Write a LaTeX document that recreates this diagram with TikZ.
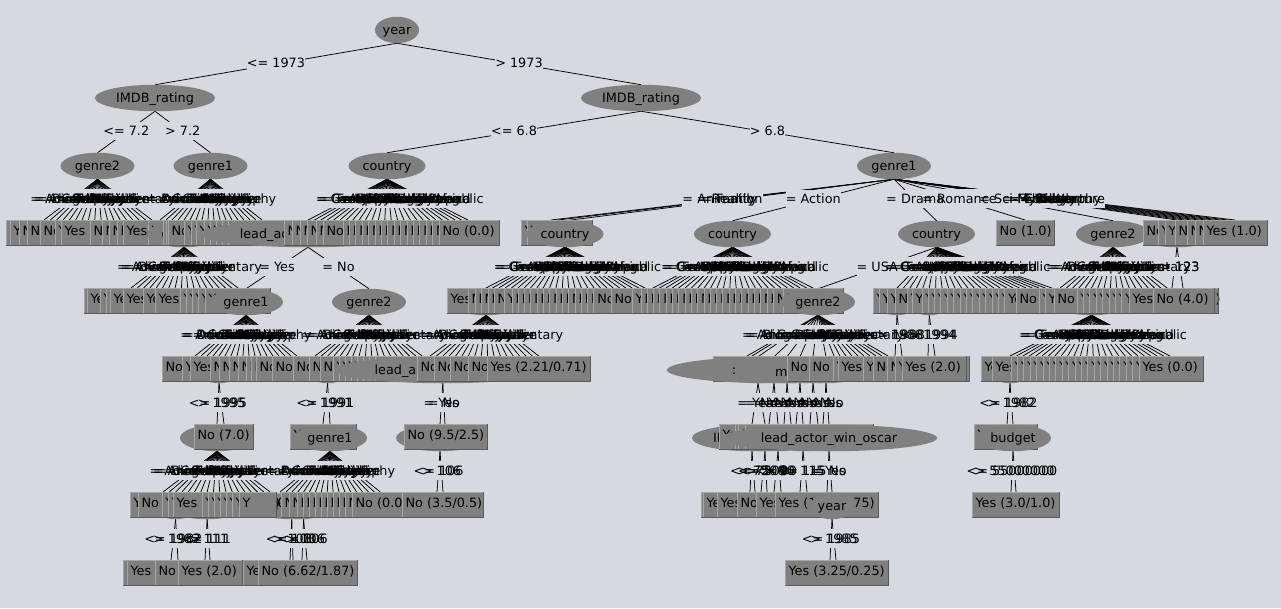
\documentclass[tikz,border=0pt]{standalone}
\usepackage{fontspec}
\setmainfont{DejaVu Sans}
\usetikzlibrary{shapes.geometric,calc}
\pgfdeclarelayer{edges}\pgfdeclarelayer{labbg}\pgfdeclarelayer{labtx}
\pgfsetlayers{edges,labbg,labtx,main}
\definecolor{bgc}{HTML}{D6D9E0}
\definecolor{nodec}{HTML}{808080}
\definecolor{litc}{HTML}{A6A6A6}
\definecolor{drkc}{HTML}{5A5A5A}
\newcount\lfn \newcount\lbn
\tikzset{
  x=1pt,y=-1pt,
  tx/.style={font=\fontsize{12.8}{15}\selectfont,text=black,text height=10.5pt,text depth=1.5pt},
  ell/.style={ellipse,fill=nodec,minimum height=26.5pt,inner sep=0pt,outer sep=0pt,tx},
  leafbox/.style={rectangle,fill=nodec,anchor=north west,minimum height=25pt,inner xsep=3.5pt,inner ysep=0pt,outer sep=0pt,align=left,tx},
  lit/.style={litc,line width=0.9pt},
  drk/.style={drkc,line width=0.9pt},
  edgeln/.style={black,line width=0.75pt},
  labfill/.style={fill=bgc,inner xsep=0pt,inner ysep=0pt,minimum height=18.5pt,outer sep=0pt,tx},
  labtxt/.style={inner xsep=0pt,inner ysep=0pt,tx}
}
% edges are collected and drawn at the end, each layer being entered once
\gdef\edlist{}
\newcommand\ed[3]{%
  \xdef\edlist{\unexpanded\expandafter{\edlist}\noexpand\oneedge{#1}{#2}{#3}}}
% evenly spread children: parent, prefix, first x, step, top y, list macro
\newcommand\fan[6]{%
  \foreach \l [count=\i] in #6 {%
    \pgfmathsetmacro\cx{#3+#4*(\i-1)}
    \coordinate (#2-\i) at (\cx,#5);
    \ed{#1}{#2-\i}{\l}}}
\newcommand\pairk[7]{%
  \coordinate (#2-1) at (#3,#5);\coordinate (#2-2) at (#4,#5);
  \ed{#1}{#2-1}{#6}\ed{#1}{#2-2}{#7}}
% leaf box: top y, left x, width, text
\newcommand\lf[4]{%
  \global\advance\lfn by 1
  \pgfmathsetmacro\tw{#3-7}
  \node[leafbox,text width=\tw pt] (lf\the\lfn) at (#2,#1) {\mbox{\raisebox{1.8pt}{#4}}};
  \draw[lit] (lf\the\lfn.south west) -- (lf\the\lfn.north west) -- (lf\the\lfn.north east);
  \draw[drk] (lf\the\lfn.south west) -- (lf\the\lfn.south east) -- (lf\the\lfn.north east);}
\newcommand\rowN[2]{\foreach \L in {#2} {\lf{#1}{\L}{60}{No (0.0)}}}
\newcommand\rowY[2]{\foreach \L in {#2} {\lf{#1}{\L}{65}{Yes (0.0)}}}
\def\GA{= Adventure,= Animation,= Biography,= Comedy,= Crime,= Drama,= Family,= Fantasy,= History,= Horror,= Music,= Musical,= Mystery,= Romance,= Sci-Fi,= Thriller,= War,= Documentary}
\def\GB{= Animation,= Adventure,= Comedy,= Crime,= Documentary,= Drama,= Family,= Fantasy,= History,= Horror,= Music,= Musical,= Mystery,= Romance,= Sci-Fi,= Thriller,= War,= Biography}
\def\CA{= Canada,= France,= Germany,= UK,= USA,= Italy,= Spain,= Australia,= Japan,= China,= India,= Mexico,= Russia,= Brazil,= Ireland,= Denmark,= Sweden,= Norway,= Belgium,= Hungary,= Poland,= South Korea,= Hong Kong,= New Zealand,= South Africa,= Czech Republic}
\def\CB{= Canada,= France,= Germany,= UK,= Italy,= Spain,= Australia,= Japan,= China,= India,= Mexico,= Russia,= Brazil,= Ireland,= Denmark,= Sweden,= Norway,= Belgium,= Hungary,= Poland,= South Korea,= Hong Kong,= New Zealand,= South Africa,= Czech Republic}
\def\TA{= Animation,= Reality}
\def\TB{= Mystery,= Thriller,= Comedy,= Crime,= Horror,= Western,= War,= Biography,= Adventure}
\begin{document}
\begin{tikzpicture}
\useasboundingbox (0,0) rectangle (1281,608);
% upper levels
\node[ell,minimum width=44pt] (yr) at (397,30) {year};
\node[ell,minimum width=120pt] (ia) at (155,98) {IMDB\_rating};
\node[ell,minimum width=120pt] (ib) at (641,98) {IMDB\_rating};
\ed{yr}{ia.north}{<= 1973}\ed{yr}{ib.north}{> 1973}
\node[ell,minimum width=74pt] (g2a) at (97.5,166) {genre2};
\node[ell,minimum width=74pt] (g1a) at (210.5,166) {genre1};
\node[ell,minimum width=77pt] (cn) at (387,166) {country};
\node[ell,minimum width=74pt] (gT) at (894,166) {genre1};
\ed{ia}{g2a.north}{<= 7.2}\ed{ia}{g1a.north}{> 7.2}
\ed{ib}{cn.north}{<= 6.8}\ed{ib}{gT.north}{> 6.8}
% row 234, left
\fan{g2a}{fA}{44}{6.35}{220}{\GA}
\fan{g1a}{fB}{160}{6}{220}{\GB}
\fan{cn}{fC}{308}{6.4}{220}{\CA}
\lf{220}{6}{60}{No (0.0)}\lf{220}{10}{65}{Yes (0.0)}
\rowN{220}{19,27,40}\rowY{220}{55,61}\rowN{220}{90,102,109,117}\rowY{220}{123,148}
\node[ell,minimum width=74pt] (gD) at ([yshift=-14pt]fB-5) {genre1};
\rowN{220}{163,166,168}\rowY{220}{184,191,196,204,210,216,222,228}
\node[ell,minimum width=216pt] (lead) at ([yshift=-14pt]fC-1) {lead\_actor\_win\_oscar};
\rowN{220}{284,292,300,307,316,323,343,349.4,...,439}
% row 234, right
\fan{gT}{fT}{551}{7}{220}{\TA}
\rowY{220}{521,527}
\node[ell,minimum width=77pt] (cG) at (565,234) {country};
\node[ell,minimum width=77pt] (cH) at (732.5,234) {country};
\node[ell,minimum width=77pt] (cI) at (936.5,234) {country};
\ed{gT}{cG.north}{= Family}\ed{gT}{cH.north}{= Action}\ed{gT}{cI.north}{= Drama}
\lf{220}{996}{58}{No (1.0)}
\ed{gT}{lf\the\lfn.north}{= Romance}
\node[ell,minimum width=74pt] (g2J) at (1113,234) {genre2};
\ed{gT}{g2J.north}{= Sci-Fi}
\fan{gT}{fR}{1177}{7.25}{220}{\TB}
\node[ell,minimum width=82pt] (durR) at ([yshift=-14pt]fR-1) {duration};
\rowN{220}{1143}\rowY{220}{1158,1165}\rowN{220}{1175,1187,1195}
\lf{220}{1203}{64}{Yes (1.0)}
% row 302
\fan{gD}{fD}{131}{6.3}{288}{\GA}
\rowY{288}{84,87,100,106,110,123,143,155,180,186,192,198,205}
\node[ell,minimum width=74pt] (gE) at (246,302) {genre1};
\node[ell,minimum width=74pt] (g2F) at (369,302) {genre2};
\ed{lead}{gE.north}{= Yes}\ed{lead}{g2F.north}{= No}
\fan{cG}{fG}{486}{6.36}{288}{\CA}
\fan{cH}{fH}{653}{6.4}{288}{\CA}
\node[ell,minimum width=74pt] (gL) at ([yshift=-14pt]fG-1) {genre2};
\lf{288}{447}{65}{Yes (0.0)}
\rowN{288}{468,475,481,488,494}\rowY{288}{504}
\rowN{288}{512,518.3,...,600}\rowN{288}{611}
\rowY{288}{632}\rowN{288}{641,647.3,...,779.6}\rowN{288}{783}
\node[ell,minimum width=74pt] (g2K) at (818,302) {genre2};
\ed{cI}{g2K.north}{= USA}
\fan{cI}{fI}{897}{6.45}{288}{\CB}
\node[ell,minimum width=44pt] (yI) at ([yshift=-14pt]fI-1) {year};
\node[ell,minimum width=44pt] (yJ) at ([yshift=-14pt]fI-6) {year};
\rowY{288}{873,879,887}\rowN{288}{895}\rowY{288}{907,912,922,928,934.4,...,1010}
\rowN{288}{1016}\rowY{288}{1039,1045}
\fan{g2J}{fJ}{1060}{6.3}{288}{\GA}
\node[ell,minimum width=77pt] (cJ) at ([yshift=-14pt]fJ-6) {country};
\rowN{288}{1054}\rowY{288}{1077,1083.4,...,1122}
\lf{288}{1129}{89}{Yes (12.0/3.0)}
\pairk{durR}{pR}{1172}{1183}{288}{<= 123}{> 123}
\lf{288}{1153}{61}{No (4.0)}
% row 370, left
\fan{gE}{fE}{195}{6}{356}{\GB}
\fan{g2F}{fF}{315}{6.3}{356}{\GA}
\fan{gL}{fL}{430}{6.4}{356}{\GA}
\node[ell,minimum width=44pt] (yE) at ([yshift=-14pt]fE-5) {year};
\node[ell,minimum width=44pt] (yF) at ([yshift=-14pt]fF-3) {year};
\rowN{356}{162}\rowY{356}{182,190}\rowN{356}{210,219,229,238,246,251,256,272,293,309,320}
\rowY{356}{333,339,345,351,357,363,369,375}
\node[ell,minimum width=216pt] (leadL) at ([yshift=-14pt]fL-3) {lead\_actor\_win\_oscar};
\rowN{356}{417,434,450,468}
\lf{356}{487}{103}{Yes (2.21/0.71)}
% row 370, middle
\coordinate (k01) at (747,356);\coordinate (k02) at (752,356);
\coordinate (k09) at (834,356);\coordinate (k10) at (840,356);\coordinate (k11) at (846,356);
\coordinate (k12) at (852,356);\coordinate (k13) at (858,356);\coordinate (k14) at (864,356);
\coordinate (k15) at (870,356);\coordinate (k16) at (876,356);\coordinate (k17) at (882,356);\coordinate (k18) at (888,356);
\node[ell,minimum width=80pt] (k1) at (758,370) {};
\node[ell,minimum width=80pt] (k3) at (787,370) {};
\node[ell,minimum width=80pt] (k4) at (800,370) {};
\node[ell,minimum width=80pt] (k5) at (813,370) {};
\node[ell,minimum width=80pt] (k6) at (826,370) {};
\ed{g2K}{k01}{= Adventure}\ed{g2K}{k02}{= Animation}\ed{g2K}{k1.north}{= Biography}
\lf{356}{713}{74}{Yes (0.0)}
\node[ell,minimum width=214pt] (k2) at (774,370) {};
\node[tx,inner sep=0pt] (kdots) at (734,370) {:};
\node[tx,inner sep=0pt,anchor=west] (kem) at (775,372) {m};
\ed{g2K}{k2.north}{= Comedy}\ed{g2K}{k3.north}{= Crime}\ed{g2K}{k4.north}{= Drama}\ed{g2K}{k5.north}{= Family}\ed{g2K}{k6.north}{= Fantasy}
\ed{g2K}{k09}{= History}\ed{g2K}{k10}{= Horror}\ed{g2K}{k11}{= Music}\ed{g2K}{k12}{= Musical}\ed{g2K}{k13}{= Mystery}\ed{g2K}{k14}{= Romance}\ed{g2K}{k15}{= Sci-Fi}\ed{g2K}{k16}{= Thriller}\ed{g2K}{k17}{= War}\ed{g2K}{k18}{= Documentary}
\rowN{356}{787,809}\rowY{356}{833,838,863}\rowN{356}{873,887}
\lf{356}{895}{74}{Yes (3.0)}
\pairk{yI}{pI}{895}{902}{356}{<= 1988}{> 1988}
\pairk{yJ}{pJ}{928}{935}{356}{<= 1994}{> 1994}
\lf{356}{902}{64}{Yes (2.0)}
% row 370, right
\fan{cJ}{fU}{1010}{6.4}{356}{\CA}
\node[ell,minimum width=44pt] (yU) at ([yshift=-14pt]fU-1) {year};
\rowY{356}{981,992,1011,1017.4,...,1133}
\lf{356}{1139}{64}{Yes (0.0)}
% row 438
\pairk{yE}{pE}{217}{224}{424}{<= 1995}{> 1995}
\node[ell,minimum width=74pt] (g2M) at ([yshift=-14pt]pE-1) {genre2};
\lf{424}{194}{59}{No (7.0)}
\pairk{yF}{pF}{323}{330}{424}{<= 1991}{> 1991}
\lf{424}{290}{66}{Yes (0.0)}
\node[ell,minimum width=74pt] (g1M) at ([yshift=-14pt]pF-2) {genre1};
\pairk{leadL}{pL}{440}{445}{424}{= Yes}{= No}
\node[ell,minimum width=88pt] (dL) at ([yshift=-14pt]pL-1) {duration};
\lf{424}{404}{83}{No (9.5/2.5)}
\pairk{k1}{q1}{752}{765}{424}{= Yes}{= No}
\pairk{k2}{q2}{769}{778}{424}{= Yes}{= No}
\pairk{k3}{q3}{784}{791}{424}{= Yes}{= No}
\pairk{k4}{q4}{796}{803}{424}{= Yes}{= No}
\pairk{k5}{q5}{810}{818}{424}{= Yes}{= No}
\pairk{k6}{q6}{823}{829}{424}{= Yes}{= No}
\node[ell,minimum width=120pt] (n1) at ([yshift=-14pt]q1-1) {IMDB\_rating};
\node[ell,minimum width=70pt] (n2) at ([yshift=-14pt]q1-2) {};
\node[ell,minimum width=70pt] (n3) at ([yshift=-14pt]q2-2) {};
\node[ell,minimum width=70pt] (n4) at ([yshift=-14pt]q4-2) {};
\lf{424}{719}{70}{Yes (0.0)}\rowN{424}{735,738,745}\lf{424}{800}{73}{Yes (0.0)}
\node[ell,minimum width=216pt] (n5) at ([yshift=-14pt]q6-2) {lead\_actor\_win\_oscar};
\pairk{yU}{pU}{1007}{1013}{424}{<= 1982}{> 1982}
\lf{424}{974}{63}{Yes (0.0)}
\node[ell,minimum width=76pt] (bud) at ([yshift=-14pt]pU-2) {budget};
% row 506
\fan{g2M}{fM}{163}{6.3}{492}{\GA}
\fan{g1M}{fN}{280}{5.9}{492}{\GB}
\node[ell,minimum width=44pt] (yM) at ([yshift=-14pt]fM-3) {year};
\node[ell,minimum width=78pt] (dM) at ([yshift=-14pt]fM-8) {duration};
\node[ell,minimum width=82pt] (dN) at ([yshift=-14pt]fN-3) {\hspace*{-12pt}duration};
\node[ell,minimum width=44pt] (yN) at ([yshift=-14pt]fN-5) {year};
\rowY{492}{130}\rowN{492}{138}\rowY{492}{162,168,173,202,208}
\lf{492}{214}{62}{Yes (0.0)}\lf{492}{220}{56}{Yes (0.0)}\lf{492}{226}{50}{Yes (0.0)}
\lf{492}{232}{44}{Yes (0.0)}\lf{492}{239}{37}{Y}
\rowN{492}{281,289,297,303,309,315,321,327,333,339,345,352}
\pairk{dL}{qL}{437}{443}{492}{<= 106}{> 106}
\lf{492}{403}{66}{Yes (0.0)}
\lf{492}{402}{81}{No (3.5/0.5)}
\pairk{n1}{r1}{750}{755}{492}{<= 75}{> 75}
\pairk{n2}{r2}{761}{767}{492}{<= 200}{> 200}
\pairk{n3}{r3}{774}{781}{492}{<= 90}{> 90}
\pairk{n4}{r4}{800}{807}{492}{<= 115}{> 115}
\pairk{n5}{r5}{827}{832}{492}{= Yes}{= No}
\rowY{492}{701,703,717}\rowN{492}{737}\rowY{492}{756}
\lf{492}{775}{103}{Yes (1.25/0.75)}
\node[ell,minimum width=44pt] (yK) at ([yshift=-14pt]r5-2) {year};
\pairk{bud}{pB}{1011}{1016}{492}{<= 55000000}{> 55000000}
\lf{492}{973}{85}{Yes (0.0)}
\lf{492}{972}{87}{Yes (3.0/1.0)}
% row 574
\pairk{yM}{a1}{171}{178}{560}{<= 1982}{> 1982}
\pairk{dM}{a2}{205}{210}{560}{<= 111}{> 111}
\pairk{dN}{a3}{290}{293}{560}{<= 103}{> 103}
\pairk{yN}{a4}{302}{307}{560}{<= 106}{> 106}
\lf{560}{123}{60}{Yes (0.0)}\lf{560}{127}{60}{Yes (0.0)}\lf{560}{155}{60}{No (1.0)}
\lf{560}{178}{64}{Yes (2.0)}\lf{560}{243}{65}{Yes (0.0)}\lf{560}{258}{99}{No (6.62/1.87)}
\pairk{yK}{s1}{830}{836}{560}{<= 1985}{> 1985}
\lf{560}{786}{88}{Yes (0.0)}\lf{560}{785}{103}{Yes (3.25/0.25)}
% the collected connectors and labels
\begin{pgfonlayer}{edges}
  \fill[bgc] (0,0) rectangle (1281,608);
  \def\oneedge#1#2#3{\draw[edgeln] (#1.south) -- (#2);}
  \edlist
\end{pgfonlayer}
\begin{pgfonlayer}{labbg}
  \def\oneedge#1#2#3{%
    \global\advance\lbn by 1
    \path (#1.south) -- (#2) coordinate[midway] (midp);
    \node[labfill] (lbf\the\lbn) at ([yshift=1pt]midp) {\phantom{#3}};}
  \edlist
\end{pgfonlayer}
\begin{pgfonlayer}{labtx}
  \def\oneedge#1#2#3{%
    \global\advance\lbn by 1
    \path (#1.south) -- (#2) coordinate[midway] (midp);
    \node[labtxt] (lbt\the\lbn) at ([yshift=1pt]midp) {#3};}
  \edlist
\end{pgfonlayer}
\end{tikzpicture}
\end{document}
